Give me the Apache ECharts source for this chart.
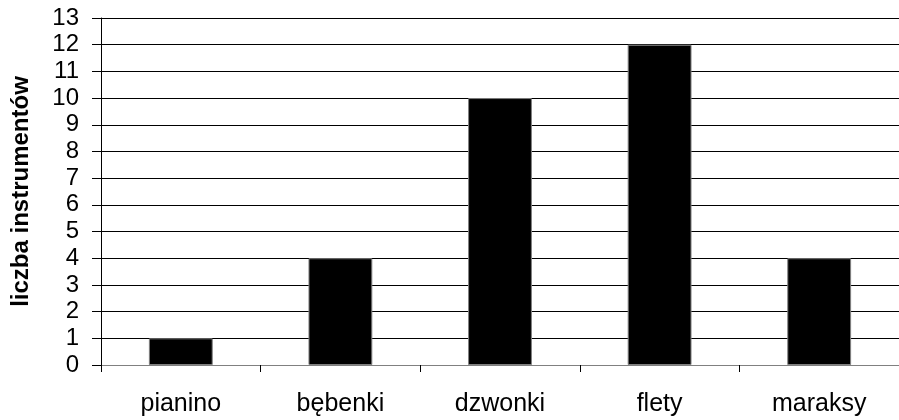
<!DOCTYPE html>
<html>
<head>
<meta charset="utf-8">
<script src="https://cdn.jsdelivr.net/npm/echarts@6/dist/echarts.min.js"></script>
<style>
html,body{margin:0;padding:0;background:#fff;}
#c{width:899px;height:420px;}
</style>
</head>
<body>
<div id="c"></div>
<script>
const categories = ['pianino', 'bębenki', 'dzwonki', 'flety', 'maraksy'];
const values = [1, 4, 10, 12, 4];
const yTitle = 'liczba instrumentów';

const FONT = '"Liberation Sans", Arial, sans-serif';
const chart = echarts.init(document.getElementById('c'), null, {renderer: 'canvas'});
chart.setOption({
  animation: false,
  backgroundColor: '#ffffff',
  grid: {left: 101, top: 18, width: 805, height: 347, containLabel: false},
  xAxis: {
    type: 'category',
    data: categories,
    boundaryGap: true,
    axisLine: {show: true, lineStyle: {color: '#808080', width: 1}},
    axisTick: {show: true, alignWithLabel: false, length: 7, lineStyle: {color: '#000'}},
    axisLabel: {color: '#000', fontFamily: FONT, fontSize: 25, margin: 27}
  },
  yAxis: {
    type: 'value',
    min: 0, max: 13, interval: 1,
    name: yTitle,
    nameLocation: 'middle',
    nameGap: 68,
    nameRotate: 90,
    nameTextStyle: {color: '#000', fontFamily: FONT, fontSize: 24, fontWeight: 'bold'},
    axisLine: {show: true, lineStyle: {color: '#000', width: 1}},
    axisTick: {show: true, length: 9, lineStyle: {color: '#000'}},
    axisLabel: {color: '#000', fontFamily: FONT, fontSize: 24, margin: 22},
    splitLine: {show: true, lineStyle: {color: '#000', width: 1}}
  },
  series: [{
    type: 'bar',
    data: values,
    barWidth: '40%',
    itemStyle: {color: '#000', borderColor: '#808080', borderWidth: 1}
  }]
});
</script>
</body>
</html>
